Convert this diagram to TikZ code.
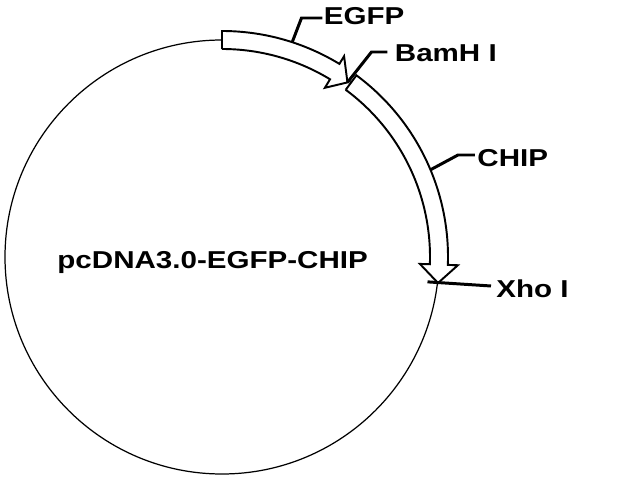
\documentclass[tikz,border=0pt]{standalone}
\usepackage{fontspec}
\setmainfont{Liberation Sans}
\usetikzlibrary{calc}

\begin{document}
\begin{tikzpicture}[scale=0.2]
\tikzstyle{every node}+=[inner sep=0pt, xscale=1.21, font=\bfseries\fontsize{13.9}{17}\selectfont]
\tikzstyle{band}=[draw=black, fill=white, line width=1.1pt]
\tikzstyle{pin}=[draw=black, line width=1.7pt]
\useasboundingbox (0,0) rectangle (64,-48);
\draw [black, line width=0.7pt] (22.2,-25.7) circle (21.7);
\begin{scope}[shift={(22.2,-25.7)}]
\draw [band] (53.5:20.8) -- (53.5:22.6) arc [start angle=53.5, end angle=-2, radius=22.6] -- (-2:23.6) -- (-6.86:21.76) -- (-2:19.8) -- (-2:20.8) arc [start angle=-2, end angle=53.5, radius=20.8] -- cycle;
\draw [band] (90:20.8) -- (90:22.6) arc [start angle=90, end angle=58.7, radius=22.6] -- (58.7:23.5) -- (54.3:21.5) coordinate (egfptip) -- (58.7:19.8) -- (58.7:20.8) arc [start angle=58.7, end angle=90, radius=20.8] -- cycle;
\coordinate (egfpfoot) at (71.9:22.6);
\coordinate (chipfoot) at (22.7:22.6);
\coordinate (xhofoot) at (-6.9:20.7);
\end{scope}
\node [anchor=base west] (egfp) at (32.35,-2.5) {EGFP};
\node [anchor=base west] (bamh) at (39.45,-6.2) {BamH I};
\node [anchor=base west] (chip) at (47.7,-16.7) {CHIP};
\node [anchor=base west] (xho) at (49.6,-29.8) {Xho I};
\node [anchor=base west] (name) at (5.7,-26.83) {pcDNA3.0-EGFP-CHIP};
\draw [pin] (egfpfoot) -- ($(egfp.base west)+(-2.2,0.7)$) -- ($(egfp.base west)+(-0.1,0.7)$);
\draw [pin] (egfptip) -- ($(bamh.base west)+(-2.3,1.0)$) -- ($(bamh.base west)+(-0.7,1.0)$);
\draw [pin] (chipfoot) -- ($(chip.base west)+(-1.9,1.2)$) -- ($(chip.base west)+(-0.2,1.2)$);
\draw [pin] (xhofoot) -- ($(xho.base west)+(-0.5,1.2)$);
\end{tikzpicture}
\end{document}
